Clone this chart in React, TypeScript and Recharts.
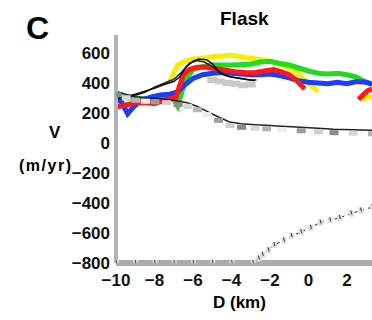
import { ComposedChart, Line, XAxis, YAxis } from "recharts";

// velocity profiles along the flowline, V in m/yr vs distance D in km
const yellowRun = [
  { d: -7.2, v: 410 }, { d: -7.0, v: 470 }, { d: -6.8, v: 520 }, { d: -6.4, v: 545 },
  { d: -6.0, v: 560 }, { d: -5.5, v: 565 }, { d: -5.0, v: 575 }, { d: -4.5, v: 580 },
  { d: -4.0, v: 585 }, { d: -3.5, v: 575 }, { d: -3.0, v: 565 }, { d: -2.5, v: 555 },
  { d: -2.0, v: 545 }, { d: -1.5, v: 525 }, { d: -1.0, v: 500 }, { d: -0.6, v: 470 },
  { d: -0.2, v: 420 }, { d: 0.2, v: 375 }, { d: 0.5, v: 345 },
];
const yellowTail = [
  { d: 2.8, v: 290 }, { d: 3.0, v: 300 }, { d: 3.3, v: 310 },
];
const greenRun = [
  { d: -10, v: 330 }, { d: -9.7, v: 310 }, { d: -9.4, v: 300 }, { d: -9.0, v: 300 },
  { d: -8.5, v: 295 }, { d: -8.0, v: 290 }, { d: -7.5, v: 300 }, { d: -7.0, v: 290 },
  { d: -6.8, v: 245 }, { d: -6.6, v: 330 }, { d: -6.4, v: 420 }, { d: -6.0, v: 490 },
  { d: -5.5, v: 510 }, { d: -5.0, v: 520 }, { d: -4.0, v: 520 }, { d: -3.0, v: 525 },
  { d: -2.5, v: 540 }, { d: -2.0, v: 545 }, { d: -1.5, v: 530 }, { d: -1.0, v: 520 },
  { d: -0.5, v: 500 }, { d: 0.0, v: 480 }, { d: 0.5, v: 465 }, { d: 1.0, v: 460 },
  { d: 1.5, v: 465 }, { d: 2.0, v: 455 }, { d: 2.5, v: 440 }, { d: 2.9, v: 410 },
  { d: 3.3, v: 395 },
];
const blueRun = [
  { d: -10, v: 300 }, { d: -9.7, v: 270 }, { d: -9.4, v: 195 }, { d: -9.1, v: 240 },
  { d: -8.7, v: 285 }, { d: -8.2, v: 305 }, { d: -7.7, v: 320 }, { d: -7.2, v: 325 },
  { d: -6.8, v: 340 }, { d: -6.4, v: 390 }, { d: -6.0, v: 430 }, { d: -5.5, v: 455 },
  { d: -5.0, v: 465 }, { d: -4.5, v: 470 }, { d: -4.0, v: 465 }, { d: -3.5, v: 460 },
  { d: -3.0, v: 455 }, { d: -2.5, v: 455 }, { d: -2.0, v: 460 }, { d: -1.5, v: 450 },
  { d: -1.0, v: 435 }, { d: -0.5, v: 415 }, { d: 0.0, v: 405 }, { d: 0.5, v: 400 },
  { d: 1.0, v: 395 }, { d: 1.5, v: 405 }, { d: 2.0, v: 395 }, { d: 2.5, v: 410 },
  { d: 3.0, v: 405 }, { d: 3.3, v: 390 },
];
const redRun = [
  { d: -10, v: 240 }, { d: -9.6, v: 250 }, { d: -9.2, v: 262 }, { d: -8.8, v: 270 },
  { d: -8.4, v: 268 }, { d: -8.0, v: 262 }, { d: -7.6, v: 280 }, { d: -7.2, v: 295 },
  { d: -6.9, v: 300 }, { d: -6.7, v: 380 }, { d: -6.5, v: 455 }, { d: -6.2, v: 490 },
  { d: -5.8, v: 505 }, { d: -5.3, v: 505 }, { d: -4.8, v: 495 }, { d: -4.3, v: 485 },
  { d: -3.8, v: 475 }, { d: -3.3, v: 470 }, { d: -2.8, v: 468 }, { d: -2.3, v: 480 },
  { d: -1.8, v: 490 }, { d: -1.4, v: 475 }, { d: -1.0, v: 455 }, { d: -0.6, v: 415 },
  { d: -0.2, v: 360 },
];
const redTail = [
  { d: 2.6, v: 290 }, { d: 2.9, v: 330 }, { d: 3.1, v: 350 }, { d: 3.3, v: 360 },
];
const blackA = [
  { d: -10, v: 295 }, { d: -9.5, v: 310 }, { d: -9.0, v: 325 }, { d: -8.5, v: 345 },
  { d: -8.0, v: 365 }, { d: -7.5, v: 390 }, { d: -7.0, v: 410 }, { d: -6.7, v: 440 },
  { d: -6.4, v: 500 }, { d: -6.0, v: 545 }, { d: -5.7, v: 560 }, { d: -5.3, v: 555 },
  { d: -5.0, v: 530 }, { d: -4.7, v: 485 }, { d: -4.4, v: 455 }, { d: -4.0, v: 440 },
  { d: -3.5, v: 430 }, { d: -3.0, v: 420 }, { d: -2.7, v: 420 },
];
const blackB = [
  { d: -10, v: 285 }, { d: -9.5, v: 300 }, { d: -9.0, v: 318 }, { d: -8.5, v: 338 },
  { d: -8.0, v: 372 }, { d: -7.5, v: 398 }, { d: -7.0, v: 425 }, { d: -6.6, v: 470 },
  { d: -6.2, v: 530 }, { d: -5.8, v: 550 }, { d: -5.4, v: 540 }, { d: -5.0, v: 510 },
  { d: -4.6, v: 468 }, { d: -4.2, v: 445 }, { d: -3.8, v: 435 }, { d: -3.3, v: 425 },
  { d: -2.8, v: 415 },
];
const grayBlobs = [
  { d: -5.0, v: 420 }, { d: -4.6, v: 410 }, { d: -4.2, v: 400 }, { d: -3.8, v: 395 },
  { d: -3.4, v: 385 }, { d: -3.0, v: 390 },
];
const balanceLine = [
  { d: -10, v: 345 }, { d: -9.5, v: 325 }, { d: -9.0, v: 308 }, { d: -8.5, v: 302 },
  { d: -8.0, v: 298 }, { d: -7.4, v: 292 }, { d: -6.8, v: 280 }, { d: -6.3, v: 268 },
  { d: -5.8, v: 245 }, { d: -5.3, v: 213 }, { d: -4.7, v: 175 }, { d: -4.1, v: 140 },
  { d: -3.5, v: 128 }, { d: -2.8, v: 122 }, { d: -2.2, v: 118 }, { d: -1.4, v: 112 },
  { d: -0.4, v: 105 }, { d: 0.5, v: 98 }, { d: 1.3, v: 92 }, { d: 2.3, v: 88 },
  { d: 3.3, v: 85 },
];
const dashedLine = [
  { d: -10, v: -800 }, { d: -9.0, v: -800 }, { d: -8.0, v: -800 }, { d: -7.0, v: -800 },
  { d: -6.0, v: -800 }, { d: -5.0, v: -800 }, { d: -4.0, v: -800 }, { d: -2.9, v: -800 },
  { d: -2.6, v: -770 }, { d: -2.4, v: -745 }, { d: -2.1, v: -715 }, { d: -1.8, v: -680 },
  { d: -1.3, v: -650 }, { d: -0.9, v: -620 }, { d: -0.4, v: -595 }, { d: 0.1, v: -565 },
  { d: 0.6, v: -530 }, { d: 1.1, v: -515 }, { d: 1.6, v: -500 }, { d: 2.2, v: -470 },
  { d: 2.7, v: -450 }, { d: 3.3, v: -428 },
];
const xTicks = [-10, -8, -6, -4, -2, 0, 2];
const yTicks = [-800, -600, -400, -200, 0, 200, 400, 600];
const yMinorTicks = [
  -750, -700, -650, -550, -500, -450, -350, -300, -250, -150, -100, -50,
  50, 100, 150, 250, 300, 350, 450, 500, 550, 650, 700,
];

const labelFont = "'Liberation Sans', Arial, sans-serif";
const tickStyle = { fontSize: 17, fontWeight: 700, fill: "#111", fontFamily: labelFont };
const grays = ["#8a8a8a", "#d8d8d8", "#b5b5b5", "#efefef", "#9c9c9c", "#cfcfcf"];

const fmt = (n: number) => (n < 0 ? "\u2212" + Math.abs(n) : String(n));

function StepDot(props: any) {
  const { cx, cy, index } = props;
  if (cx == null || cy == null) return null;
  return (
    <rect
      key={"s" + index}
      x={cx - 4}
      y={cy + 1}
      width={9}
      height={5}
      fill={grays[index % grays.length]}
    />
  );
}

function BlobDot(props: any) {
  const { cx, cy, index } = props;
  if (cx == null || cy == null) return null;
  return <rect key={"b" + index} x={cx - 5} y={cy - 3} width={10} height={6} fill="#c9c9c9" />;
}

function TickDot(props: any) {
  const { cx, cy, index } = props;
  if (cx == null || cy == null) return null;
  return (
    <g key={"t" + index}>
      <rect x={cx - 2} y={cy - 3} width={5} height={6} fill="#dcdcdc" />
      <line x1={cx} x2={cx + 1} y1={cy - 3} y2={cy + 1} stroke="#333" strokeWidth={1} />
    </g>
  );
}

const thick = (data: { d: number; v: number }[], color: string, key: string) => (
  <Line
    key={key}
    yAxisId="v"
    data={data}
    dataKey="v"
    stroke={color}
    strokeWidth={5}
    dot={false}
    type="linear"
    isAnimationActive={false}
  />
);

export default function App() {
  return (
    <div style={{ position: "absolute", left: 0, top: 0, width: 372, height: 320, background: "#fff", fontFamily: labelFont }}>
      <div style={{ position: "absolute", left: 26, top: 10, fontSize: 32, fontWeight: 700 }}>C</div>
      <div style={{ position: "absolute", left: 220, top: 8, fontSize: 19, fontWeight: 700 }}>Flask</div>
      <div style={{ position: "absolute", left: 49, top: 123, fontSize: 17, fontWeight: 700 }}>V</div>
      <div style={{ position: "absolute", left: 19, top: 157, fontSize: 16, fontWeight: 700, letterSpacing: 1.5 }}>(m/yr)</div>
      <div style={{ position: "absolute", left: 213, top: 293, fontSize: 17, fontWeight: 700 }}>D (km)</div>
      <ComposedChart
        width={372}
        height={320}
        margin={{ top: 35, right: 0, bottom: 0, left: 0 }}
        style={{ position: "absolute", left: 0, top: 0 }}
      >
        <XAxis
          dataKey="d"
          type="number"
          domain={[-10, 3.3]}
          ticks={xTicks}
          tickFormatter={fmt}
          allowDataOverflow
          height={57}
          tickLine={false}
          tickSize={0}
          tickMargin={11}
          tick={tickStyle}
          axisLine={{ stroke: "#ababab", strokeWidth: 6 }}
        />
        <YAxis
          yAxisId="v"
          type="number"
          domain={[-800, 720]}
          ticks={yTicks}
          tickFormatter={fmt}
          allowDataOverflow
          width={116}
          tickLine={false}
          tickSize={0}
          tickMargin={6}
          tick={tickStyle}
          axisLine={{ stroke: "#b3b3b3", strokeWidth: 4 }}
        />
        <YAxis
          yAxisId="m"
          type="number"
          domain={[-800, 720]}
          ticks={yMinorTicks}
          allowDataOverflow
          mirror
          width={0}
          tick={false}
          tickSize={2}
          tickLine={{ stroke: "#777" }}
          axisLine={false}
        />
        {thick(yellowRun, "#f4f000", "y1")}
        {thick(yellowTail, "#f4f000", "y2")}
        {thick(greenRun, "#1fdc1f", "g1")}
        {thick(blueRun, "#1e3cff", "b1")}
        {thick(redRun, "#ff1818", "r1")}
        {thick(redTail, "#ff1818", "r2")}
        <Line yAxisId="v" data={grayBlobs} dataKey="v" stroke="none" dot={BlobDot} isAnimationActive={false} />
        <Line yAxisId="v" data={blackB} dataKey="v" stroke="#222" strokeWidth={1.5} dot={false} isAnimationActive={false} />
        <Line yAxisId="v" data={blackA} dataKey="v" stroke="#111" strokeWidth={1.5} dot={false} isAnimationActive={false} />
        <Line
          yAxisId="v"
          data={balanceLine}
          dataKey="v"
          stroke="#222"
          strokeWidth={1.5}
          dot={StepDot}
          isAnimationActive={false}
        />
        <Line
          yAxisId="v"
          data={dashedLine}
          dataKey="v"
          stroke="#222"
          strokeWidth={1}
          strokeDasharray="3 4"
          dot={TickDot}
          isAnimationActive={false}
        />
      </ComposedChart>
    </div>
  );
}
